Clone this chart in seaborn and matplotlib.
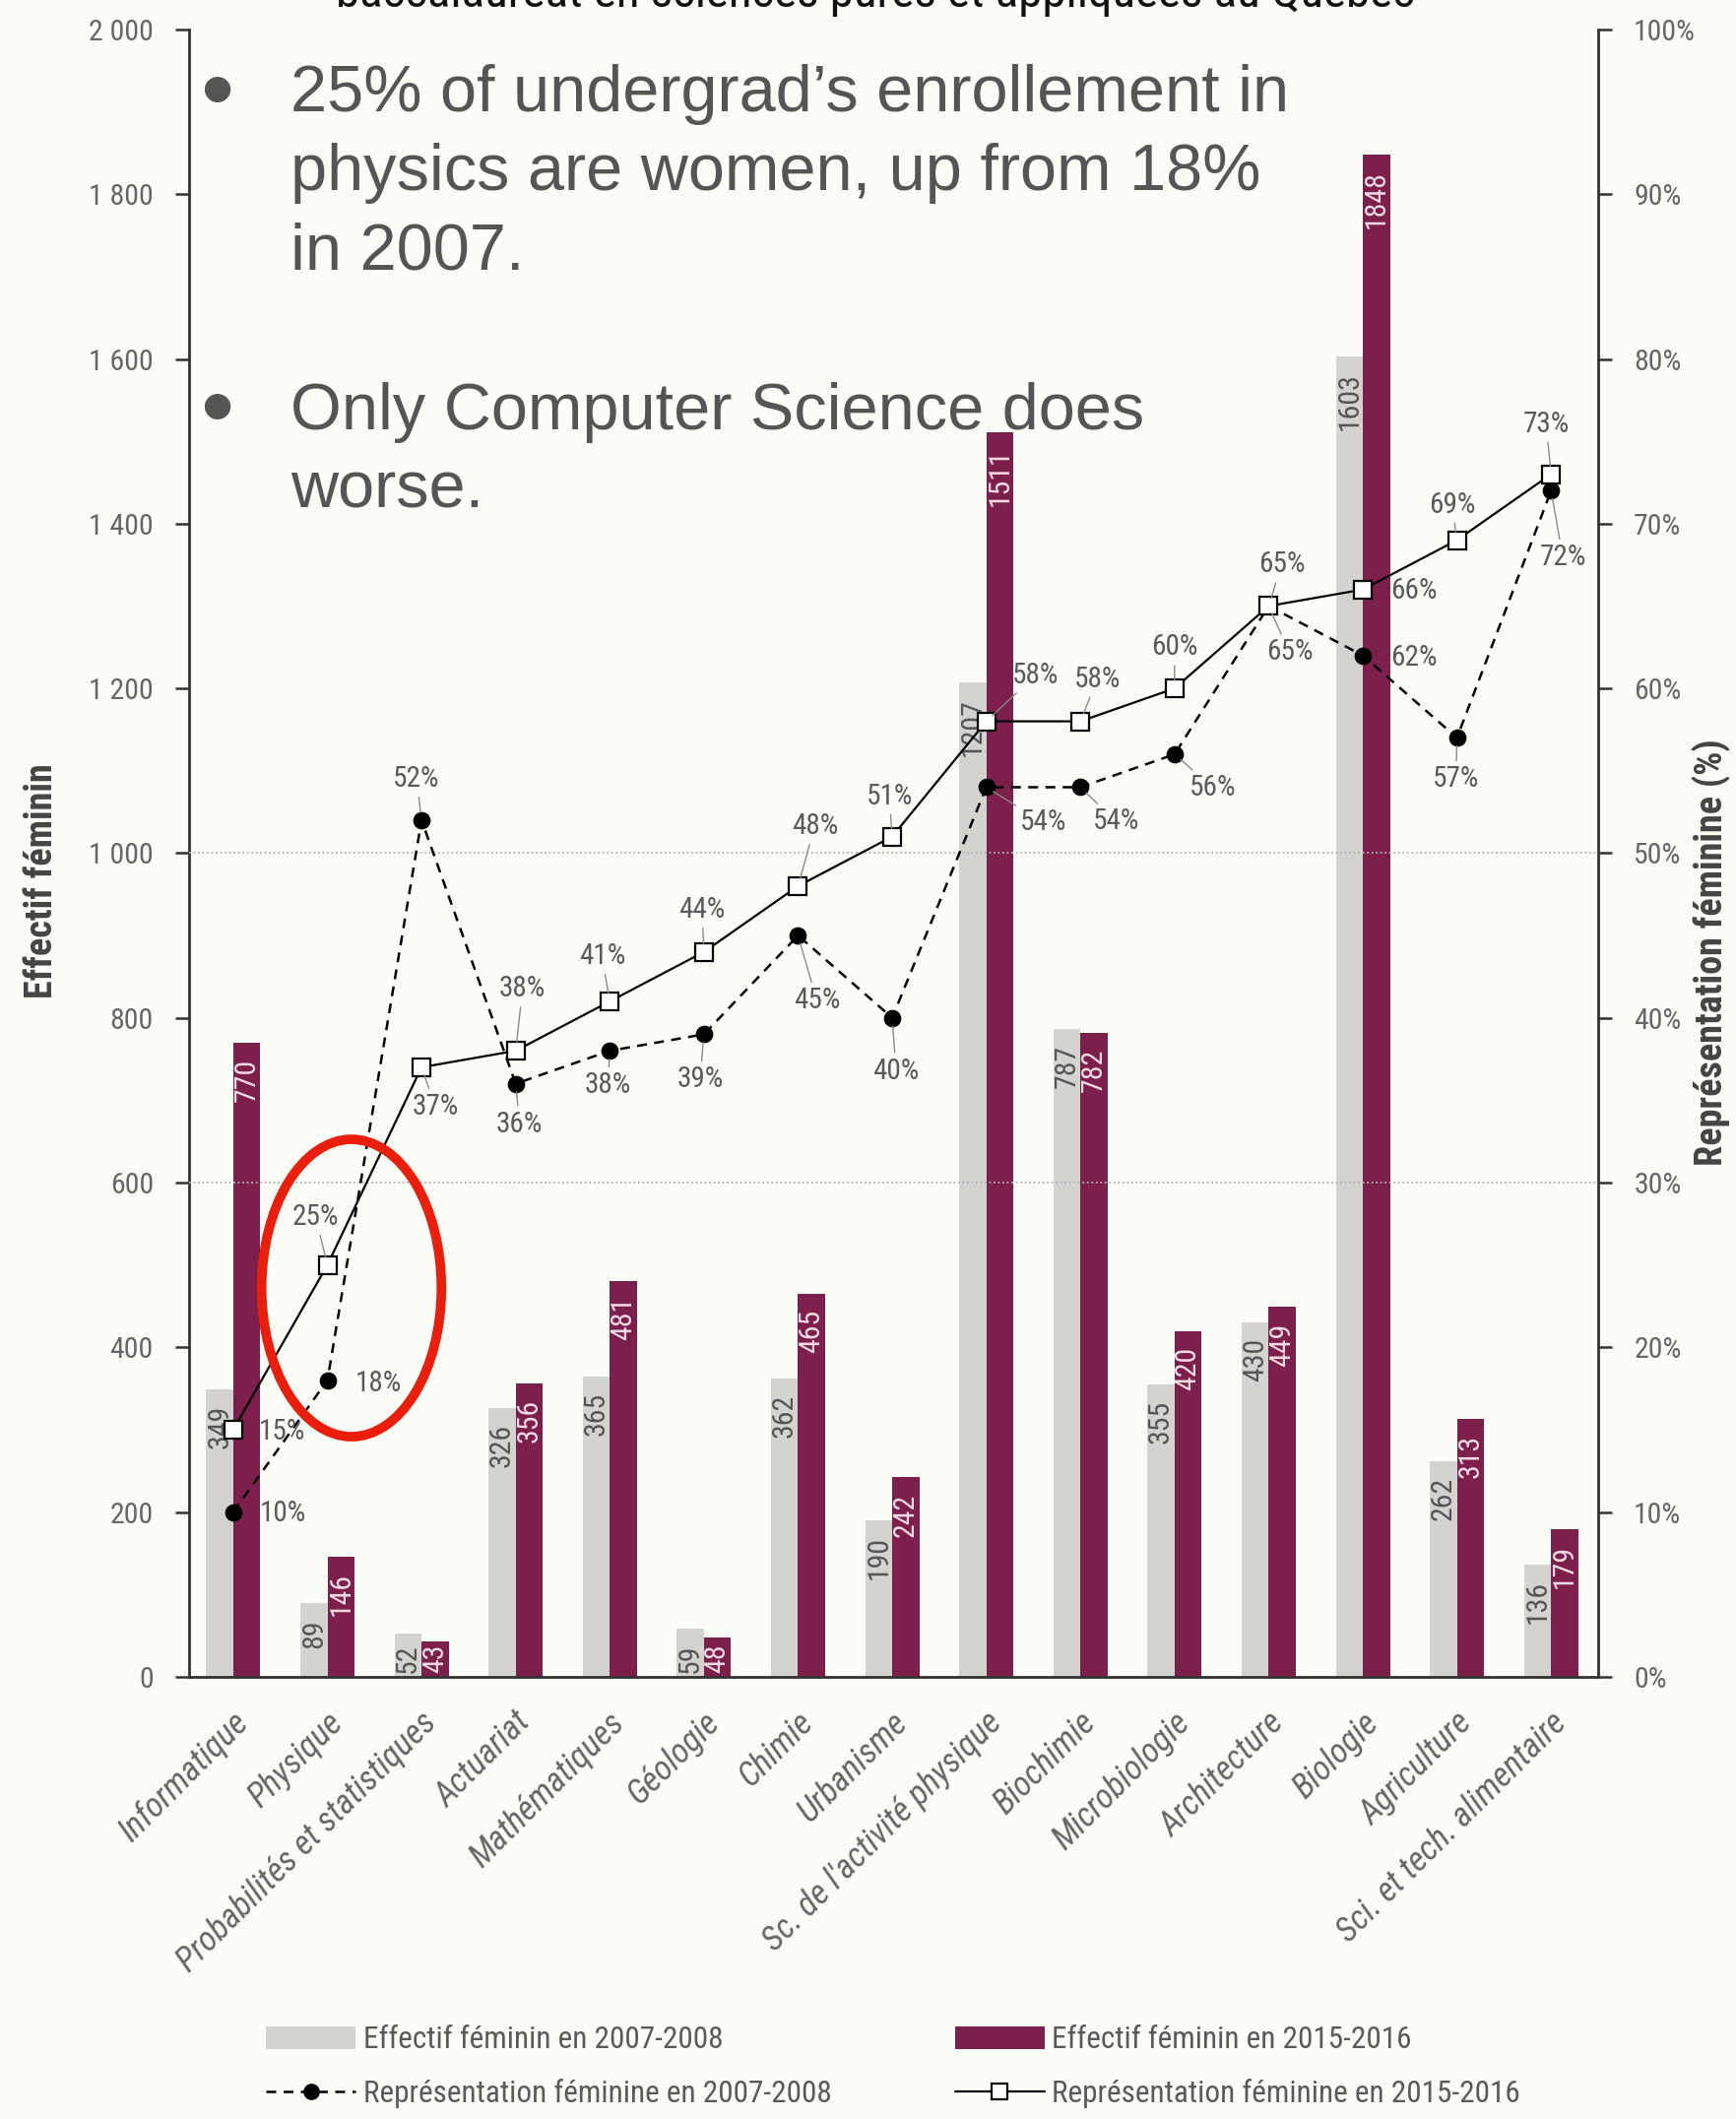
import numpy as np
import pandas as pd
import matplotlib
matplotlib.use("Agg")
import matplotlib.pyplot as plt
import matplotlib.transforms as mtransforms
from matplotlib import font_manager as fm
import seaborn as sns
from matplotlib.patches import Ellipse, Patch
from matplotlib.lines import Line2D

# ---------------- data ----------------
categories = ["Informatique", "Physique", "Probabilités et statistiques", "Actuariat",
              "Mathématiques", "Géologie", "Chimie", "Urbanisme",
              "Sc. de l'activité physique", "Biochimie", "Microbiologie",
              "Architecture", "Biologie", "Agriculture", "Sci. et tech. alimentaire"]
effectif_2007 = [349, 89, 52, 326, 365, 59, 362, 190, 1207, 787, 355, 430, 1603, 262, 136]
effectif_2015 = [770, 146, 43, 356, 481, 48, 465, 242, 1511, 782, 420, 449, 1848, 313, 179]
pct_2007 = [10, 18, 52, 36, 38, 39, 45, 40, 54, 54, 56, 65, 62, 57, 72]
pct_2015 = [15, 25, 37, 38, 41, 44, 48, 51, 58, 58, 60, 65, 66, 69, 73]
series_bar = ["Effectif féminin en 2007-2008", "Effectif féminin en 2015-2016"]
series_line = ["Représentation féminine en 2007-2008", "Représentation féminine en 2015-2016"]
left_ticks = [0, 200, 400, 600, 800, 1000, 1200, 1400, 1600, 1800, 2000]
right_ticks = [0, 10, 20, 30, 40, 50, 60, 70, 80, 90, 100]
grid_levels = [600, 1000]
left_label = "Effectif féminin"
right_label = "Représentation féminine (%)"
title_text = "baccalauréat en sciences pures et appliquées au Québec"
note_1 = ["25% of undergrad’s enrollement in", "physics are women, up from 18%", "in 2007."]
note_2 = ["Only Computer Science does", "worse."]

# label offsets (pixels) for the percentage annotations
off_2015 = [(50, -2), (-12, 49), (14, -40), (7, 63), (-8, 46), (-2, 43), (17, 61), (-3, 41),
            (50, 47), (17, 43), (0, 42), (13, 42), (52, -1), (-5, 36), (-5, 51)]
off_2007 = [(50, -1), (52, -3), (-5, 42), (4, -41), (-2, -35), (-4, -46), (19, -66), (4, -54),
            (58, -36), (36, -35), (39, -34), (21, -47), (52, -2), (-1, -42), (12, -68)]

# ---------------- fonts ----------------
entries = fm.fontManager.ttflist
names = {f.name for f in entries}
FONT, STRETCH, FS = "Liberation Sans", "normal", 0.84
if "Liberation Sans Narrow" in names:
    FONT, FS = "Liberation Sans Narrow", 1.0
elif "Roboto Condensed" in names:
    FONT, FS = "Roboto Condensed", 0.98
elif "DejaVu Sans Condensed" in names:
    FONT, FS = "DejaVu Sans Condensed", 0.86
elif any(f.name == "DejaVu Sans" and f.stretch == "condensed" for f in entries):
    FONT, STRETCH, FS = "DejaVu Sans", "condensed", 0.86

# ---------------- style ----------------
GRAY = "#d3d3cf"
MAROON = "#7d1f4b"
TXT = "#5a5a5a"
BG = "#fdfdf8"

sns.set_theme(style="white")
plt.rcParams["font.family"] = [FONT, "DejaVu Sans"]
plt.rcParams["font.stretch"] = STRETCH

fig = plt.figure(figsize=(17.63, 21.52), dpi=100, facecolor=BG)
ax = fig.add_axes([0.1089, 0.2087, 0.8117, 0.7774])
ax.set_facecolor(BG)

df_bars = pd.DataFrame({
    "Domaine": categories * 2,
    "Effectif": effectif_2007 + effectif_2015,
    "Série": [series_bar[0]] * len(categories) + [series_bar[1]] * len(categories),
})
sns.barplot(data=df_bars, x="Domaine", y="Effectif", hue="Série",
            palette=[GRAY, MAROON], width=0.575, saturation=1, errorbar=None,
            legend=False, linewidth=0, ax=ax)

# bar value labels
for container, vals, col in zip(ax.containers, [effectif_2007, effectif_2015], ["#555555", "#f3dbe4"]):
    for bar, v in zip(container, vals):
        xc = bar.get_x() + bar.get_width() / 2
        if v >= 80:
            ax.annotate(f"{v}", (xc, v), xytext=(0, -16), textcoords="offset pixels",
                        rotation=90, ha="center", va="top", fontsize=22 * FS, color=col, zorder=4)
        else:
            ax.annotate(f"{v}", (xc, 0), xytext=(0, 4), textcoords="offset pixels",
                        rotation=90, ha="center", va="bottom", fontsize=22 * FS, color=col, zorder=4)

for g in grid_levels:
    ax.axhline(g, color="#b0b0b0", lw=1.3, ls=(0, (1, 1.5)), zorder=3)

ax.set_xlim(-0.47, len(categories) - 0.5)
ax.set_ylim(0, 2000)
ax.set_yticks(left_ticks)
ax.set_yticklabels([f"{t:,}".replace(",", " ") for t in left_ticks])
ax.set_xlabel("")
ax.set_ylabel(left_label, fontsize=28 * FS, fontweight="bold", color="#444444")
ax.yaxis.set_label_coords(-0.0915, 0.483)
ax.tick_params(axis="y", left=True, direction="out", length=10, width=1.8, pad=16,
               labelsize=22 * FS, labelcolor="#666666", color="#333333")
ax.tick_params(axis="x", bottom=False, length=0, pad=30, labelsize=25.5 * FS, labelcolor="#666666")
offset = mtransforms.ScaledTranslation(0.10, 0, fig.dpi_scale_trans)
for lab in ax.get_xticklabels():
    lab.set_rotation(45)
    lab.set_ha("right")
    lab.set_va("center")
    lab.set_rotation_mode("anchor")
    lab.set_fontstyle("italic")
    lab.set_transform(lab.get_transform() + offset)

for s in ["top", "right"]:
    ax.spines[s].set_visible(False)
for s in ["left", "bottom"]:
    ax.spines[s].set_color("#333333")
    ax.spines[s].set_linewidth(2)

# ---------------- lines (twin axis) ----------------
ax2 = ax.twinx()
positions = np.arange(len(categories))
sns.lineplot(x=positions, y=pct_2007, ax=ax2, color="black", linestyle="--", lw=1.8,
             marker="o", markersize=12, markeredgecolor="black", markerfacecolor="black",
             sort=False)
ax2.lines[-1].set_linestyle((0, (4, 3)))
sns.lineplot(x=positions, y=pct_2015, ax=ax2, color="black", linestyle="-", lw=1.6,
             marker="s", markersize=12.5, markeredgecolor="black", markerfacecolor="white",
             markeredgewidth=1.6, sort=False)
ax2.set_ylim(0, 100)
ax2.set_xlim(-0.47, len(categories) - 0.5)
ax2.set_yticks(right_ticks)
ax2.set_yticklabels([f"{t}%" for t in right_ticks])
ax2.set_ylabel(right_label, fontsize=28 * FS, fontweight="bold", color="#444444")
ax2.yaxis.set_label_coords(1.067, 0.44)
ax2.tick_params(axis="y", right=True, direction="out", length=10, width=1.8, pad=16,
                labelsize=22 * FS, labelcolor="#666666", color="#333333")
for s in ["top", "left", "bottom"]:
    ax2.spines[s].set_visible(False)
ax2.spines["right"].set_color("#333333")
ax2.spines["right"].set_linewidth(2)

for vals, offs in [(pct_2015, off_2015), (pct_2007, off_2007)]:
    for i, (v, (dx, dy)) in enumerate(zip(vals, offs)):
        arrow = dict(arrowstyle="-", color="#8a8a8a", lw=1.0, shrinkA=1, shrinkB=6) if abs(dy) > 20 else None
        ax2.annotate(f"{v}%", (positions[i], v), xytext=(dx, dy), textcoords="offset pixels",
                     ha="center", va="center", fontsize=21.5 * FS, color=TXT, arrowprops=arrow, zorder=5)

# red highlight ellipse around Physique
ax2.add_patch(Ellipse((1.256, 23.6), 1.91, 18.05, fill=False, edgecolor="#eb1e0c", lw=7, zorder=10))

# ---------------- legend ----------------
handles = [
    Patch(facecolor=GRAY, edgecolor="none", label=series_bar[0]),
    Line2D([], [], color="black", ls=(0, (4, 3)), lw=1.8, marker="o", ms=11, label=series_line[0]),
    Patch(facecolor=MAROON, edgecolor="none", label=series_bar[1]),
    Line2D([], [], color="black", ls="-", lw=1.6, marker="s", ms=11, mfc="white", mew=1.6, label=series_line[1]),
]
fig.legend(handles=handles, loc="center", bbox_to_anchor=(0.5146, 0.0245), ncol=2, frameon=False,
           fontsize=23 * FS, handlelength=2.9, handleheight=0.75, handletextpad=0.25,
           columnspacing=4.0, labelspacing=0.8, labelcolor=TXT)

# ---------------- overlay texts ----------------
fig.text(889 / 1763, 1 - 7 / 2152, title_text, ha="center", va="baseline", fontsize=36 * FS,
         color="#111111")
sans = ["Liberation Sans", "DejaVu Sans"]
for lines, baselines in [(note_1, [113, 193, 273]), (note_2, [436, 515])]:
    for line, yb in zip(lines, baselines):
        fig.text(295 / 1763, 1 - yb / 2152, line, ha="left", va="baseline", fontsize=48,
                 family=sans, color="#555555")
for yb in [123, 445]:
    fig.text(220 / 1763, 1 - yb / 2152, "•", ha="center", va="baseline", fontsize=70,
             family=sans, color="#555555")

fig.savefig("out.png", dpi=100, facecolor=BG)
